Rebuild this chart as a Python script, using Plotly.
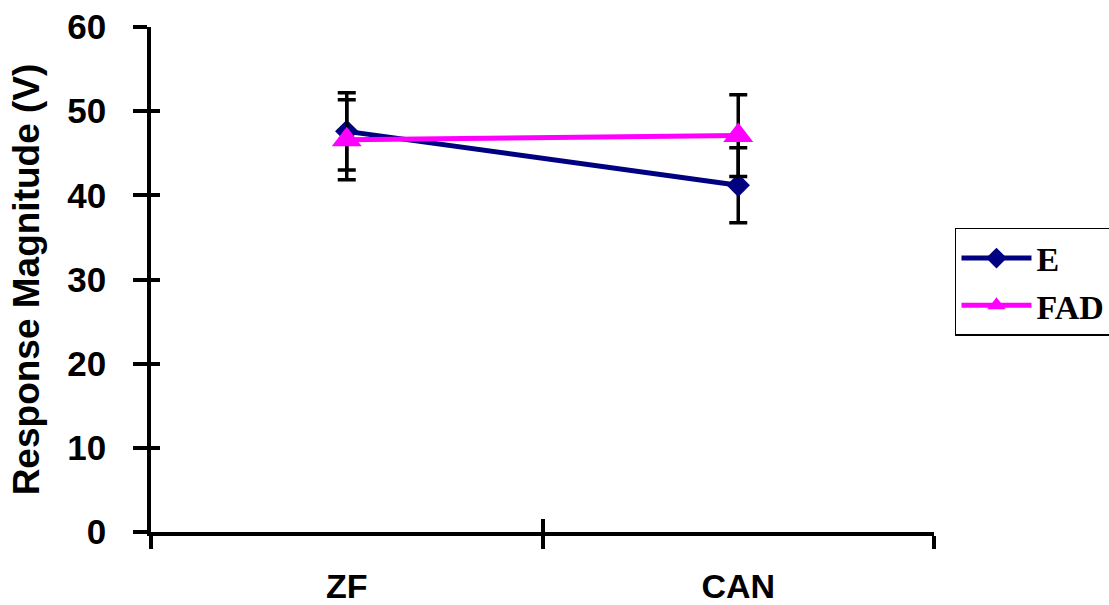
import plotly.graph_objects as go

categories = ["ZF", "CAN"]
e_values = [47.6, 41.2]
e_errors = [4.6, 4.45]
fad_values = [46.6, 47.1]
fad_errors = [4.75, 4.85]
y_ticks = [0, 10, 20, 30, 40, 50, 60]

xpos = list(range(len(categories)))
bounds = [i - 0.5 for i in range(len(categories) + 1)]

sans = "Arial, Liberation Sans, sans-serif"
serif = "Times New Roman, Liberation Serif, serif"

fig = go.Figure()
fig.add_trace(go.Scatter(
    x=xpos, y=e_values, name="E", legendgroup="E",
    mode="lines+markers",
    line=dict(color="#000080", width=5),
    marker=dict(symbol="diamond", size=18, color="#000080"),
    error_y=dict(type="data", array=e_errors, visible=True,
                 color="black", thickness=3.5, width=9),
))
fig.add_trace(go.Scatter(
    x=xpos, y=fad_values, name="FAD", legendgroup="FAD",
    mode="lines+markers",
    line=dict(color="#FF00FF", width=5),
    marker=dict(symbol="triangle-up", size=26, color="#FF00FF"),
    error_y=dict(type="data", array=fad_errors, visible=True,
                 color="black", thickness=3.5, width=9),
))
# empty trace to anchor overlay axes (inside tick marks)
fig.add_trace(go.Scatter(x=[], y=[], xaxis="x2", yaxis="y2", showlegend=False))

rng_x = [bounds[0], bounds[-1]]
rng_y = [y_ticks[0], y_ticks[-1]]

fig.update_layout(
    width=1109, height=605,
    margin=dict(l=151, r=175, t=27, b=73, autoexpand=False),
    paper_bgcolor="white", plot_bgcolor="white",
    showlegend=True,
    legend=dict(
        x=1.0268, y=0.602, xanchor="left", yanchor="top",
        bordercolor="black", borderwidth=1.5, bgcolor="white",
        font=dict(family=serif, size=34, color="black", weight="bold"),
        itemwidth=70, tracegroupgap=0,
    ),
    xaxis=dict(
        range=rng_x, tickmode="array", tickvals=xpos, ticktext=categories,
        ticks="", showgrid=False, zeroline=False,
        showline=True, linecolor="black", linewidth=3.5,
        tickfont=dict(family=sans, size=34, color="black", weight="bold"),
        ticklabelstandoff=21,
        minor=dict(tickmode="array", tickvals=bounds, ticks="outside",
                   ticklen=13, tickwidth=3.5, tickcolor="black", showgrid=False),
    ),
    xaxis2=dict(
        overlaying="x", range=rng_x, tickmode="array", tickvals=bounds,
        ticks="inside", ticklen=13, tickwidth=3.5, tickcolor="black",
        showticklabels=False, showgrid=False, zeroline=False, showline=False,
        side="bottom", anchor="y2",
    ),
    yaxis=dict(
        range=rng_y, tickmode="array", tickvals=y_ticks,
        ticks="outside", ticklen=14, tickwidth=3.5, tickcolor="black",
        showgrid=False, zeroline=False,
        showline=True, linecolor="black", linewidth=3.5,
        tickfont=dict(family=sans, size=35, color="black", weight="bold"),
        ticklabelstandoff=20,
        title=dict(text="Response Magnitude (V)", standoff=17,
                   font=dict(family=sans, size=37, color="black", weight="bold")),
        automargin=False,
    ),
    yaxis2=dict(
        overlaying="y", range=rng_y, tickmode="array", tickvals=y_ticks,
        ticks="inside", ticklen=9, tickwidth=3.5, tickcolor="black",
        showticklabels=False, showgrid=False, zeroline=False, showline=False,
        side="left", anchor="x2",
    ),
)

fig.write_html("out.html")
